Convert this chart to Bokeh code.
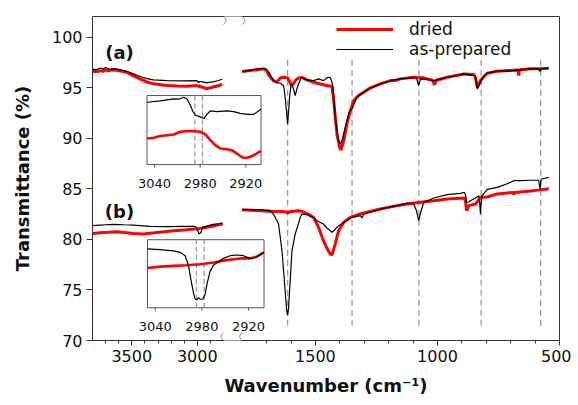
import math
import numpy as np
from bokeh.plotting import figure
from bokeh.models import (Range1d, FixedTicker, CustomJSTickFormatter, LinearAxis, Label,
                          Legend, LegendItem, BoxAnnotation, PolyAnnotation)
from bokeh.core.properties import value
from bokeh.embed import file_html
from bokeh.resources import INLINE

# ---------------- data (wavenumber cm-1, transmittance %) ----------------
A_ASPREP_LEFT_WN = [3800, 3780, 3766, 3740, 3720, 3700, 3680, 3665, 3640, 3614, 3580, 3538, 3488, 3437,
                    3386, 3335, 3233, 3107, 3005, 2998, 2993, 2985, 2955, 2929, 2900, 2878, 2840, 2810]
A_ASPREP_LEFT_T = [96.85, 96.80, 96.80, 96.95, 96.85, 97.00, 96.90, 96.80, 96.90, 96.87, 96.75, 96.63, 96.37,
                   96.11, 95.91, 95.78, 95.71, 95.68, 95.71, 95.65, 95.51, 95.62, 95.58, 95.48, 95.55, 95.58,
                   95.72, 95.84]
A_DRIED_LEFT_WN = [3800, 3790, 3780, 3770, 3760, 3741, 3720, 3700, 3680, 3660, 3640, 3600, 3538, 3490, 3437,
                   3390, 3335, 3233, 3150, 3081, 3005, 2980, 2960, 2942, 2929, 2915, 2904, 2880, 2853, 2830, 2810]
A_DRIED_LEFT_T = [96.55, 96.70, 96.55, 96.72, 96.60, 96.70, 96.62, 96.78, 96.68, 96.75, 96.76, 96.70, 96.53,
                  96.20, 95.88, 95.60, 95.39, 95.22, 95.17, 95.15, 95.22, 95.12, 95.05, 94.99, 94.89, 94.95,
                  94.99, 95.08, 95.15, 95.25, 95.32]
A_ASPREP_RIGHT_WN = [1800, 1780, 1760, 1740, 1712, 1700, 1690, 1672, 1660, 1644, 1630, 1624, 1618, 1614, 1610,
                     1606, 1600, 1596, 1590, 1583, 1576, 1569, 1560, 1555, 1545, 1535, 1508, 1487, 1467, 1455,
                     1446, 1439, 1432, 1428, 1419, 1405, 1398, 1391, 1378, 1365, 1357, 1350, 1340, 1330, 1315,
                     1302, 1275, 1234, 1200, 1179, 1152, 1120, 1097, 1086, 1077, 1070, 1063, 1040, 1015, 990,
                     960, 920, 892, 851, 844, 837, 830, 824, 810, 796, 755, 714, 687, 660, 619, 585, 580, 575, 544]
A_ASPREP_RIGHT_T = [96.60, 96.70, 96.78, 96.85, 96.93, 96.80, 96.50, 95.71, 95.50, 95.45, 95.20, 94.06, 92.50,
                    91.43, 92.60, 94.06, 95.20, 95.38, 94.90, 94.23, 94.90, 95.38, 95.90, 96.04, 95.85, 95.78,
                    95.71, 95.88, 95.71, 95.95, 96.04, 96.00, 95.55, 95.00, 92.08, 89.77, 89.44, 89.77, 91.09,
                    92.30, 92.74, 92.91, 93.50, 94.06, 94.35, 94.56, 94.95, 95.38, 95.62, 95.78, 95.88, 95.95,
                    96.04, 95.95, 95.22, 95.85, 95.88, 95.80, 95.71, 95.85, 96.04, 96.20, 96.37, 96.21, 96.15,
                    94.89, 95.20, 95.55, 96.20, 96.44, 96.64, 96.64, 96.70, 96.80, 96.87, 96.87, 96.60, 96.87,
                    96.93]
A_DRIED_RIGHT_WN = [1800, 1760, 1712, 1700, 1690, 1672, 1658, 1644, 1630, 1614, 1605, 1598, 1590, 1580, 1569,
                    1555, 1535, 1508, 1480, 1453, 1432, 1425, 1412, 1401, 1395, 1384, 1371, 1357, 1343, 1323,
                    1302, 1275, 1234, 1193, 1172, 1152, 1097, 1077, 1056, 1020, 1012, 1005, 960, 892, 851, 844,
                    837, 830, 824, 796, 755, 714, 670, 667, 664, 619, 580, 544]
A_DRIED_RIGHT_T = [96.60, 96.72, 96.87, 96.70, 96.20, 95.70, 95.55, 95.98, 96.04, 95.98, 95.60, 95.20, 95.40,
                   95.80, 95.95, 96.04, 95.78, 95.55, 95.38, 95.22, 95.12, 93.73, 90.43, 89.11, 88.85, 89.77,
                   91.43, 92.74, 93.73, 94.23, 94.56, 94.99, 95.38, 95.71, 95.71, 95.88, 96.04, 96.00, 95.98,
                   95.75, 95.30, 95.75, 96.04, 96.37, 96.31, 96.00, 95.05, 95.40, 95.71, 96.44, 96.64, 96.70,
                   96.75, 96.21, 96.75, 96.87, 96.87, 96.93]

B_ASPREP_LEFT_WN = [3800, 3741, 3700, 3640, 3560, 3488, 3361, 3233, 3081, 3018, 3005, 2995, 2987, 2980, 2972,
                    2959, 2929, 2878, 2840, 2806]
B_ASPREP_LEFT_T = [81.36, 81.42, 81.45, 81.49, 81.45, 81.42, 81.29, 81.26, 81.29, 81.29, 81.13, 80.80, 80.53,
                   80.60, 80.69, 81.19, 81.32, 81.49, 81.55, 81.62]
B_DRIED_LEFT_WN = [3800, 3741, 3680, 3614, 3540, 3488, 3412, 3310, 3233, 3183, 3081, 3000, 2980, 2929, 2878,
                   2840, 2806]
B_DRIED_LEFT_T = [80.59, 80.66, 80.70, 80.76, 80.66, 80.59, 80.53, 80.69, 80.78, 80.86, 80.96, 81.05, 81.09,
                  81.20, 81.32, 81.45, 81.52]
B_ASPREP_RIGHT_WN = [1800, 1726, 1700, 1685, 1672, 1651, 1637, 1624, 1618, 1614, 1610, 1606, 1596, 1583, 1569,
                     1562, 1555, 1535, 1508, 1494, 1480, 1467, 1453, 1439, 1432, 1425, 1405, 1384, 1371, 1350,
                     1316, 1309, 1302, 1234, 1165, 1124, 1097, 1086, 1077, 1067, 1056, 1015, 960, 906, 889, 884,
                     881, 872, 865, 844, 831, 827, 824, 821, 817, 796, 755, 714, 687, 660, 619, 585, 580, 575,
                     560, 544]
B_ASPREP_RIGHT_T = [82.94, 82.94, 82.88, 82.84, 82.51, 81.52, 78.88, 74.92, 73.00, 72.50, 73.20, 74.92, 78.88,
                    80.53, 81.60, 82.20, 82.51, 82.44, 82.18, 81.85, 81.68, 81.52, 81.13, 80.86, 80.69, 80.86,
                    81.36, 81.68, 81.85, 82.18, 82.35, 82.12, 82.51, 83.01, 83.34, 83.60, 83.50, 82.84, 81.85,
                    82.84, 83.66, 84.10, 84.43, 84.55, 84.65, 84.30, 83.66, 83.70, 83.83, 84.10, 84.33, 83.60,
                    82.51, 83.60, 84.33, 84.95, 85.15, 85.50, 85.81, 85.81, 85.85, 85.85, 84.99, 85.95, 86.05,
                    86.14]
B_DRIED_RIGHT_WN = [1800, 1726, 1672, 1637, 1620, 1614, 1608, 1596, 1569, 1555, 1530, 1508, 1487, 1467, 1450,
                    1439, 1432, 1419, 1405, 1384, 1357, 1316, 1234, 1165, 1097, 1015, 960, 889, 884, 881, 876,
                    872, 844, 824, 796, 755, 714, 690, 687, 684, 619, 580, 550, 544]
B_DRIED_RIGHT_T = [82.94, 82.84, 82.77, 82.77, 82.72, 82.62, 82.72, 82.77, 82.84, 82.77, 82.50, 82.18, 81.19,
                   79.87, 79.00, 78.55, 78.48, 79.54, 80.86, 81.68, 82.18, 82.51, 83.01, 83.34, 83.60, 83.83,
                   84.00, 84.10, 83.60, 82.84, 83.10, 83.34, 83.50, 84.16, 84.20, 84.50, 84.60, 84.65, 84.45,
                   84.65, 84.80, 84.90, 84.99, 85.05]

# reference band positions (cm-1)
BAND_WN = [1614, 1350, 1076, 821, 577]

# insets: 3050-2900 cm-1, relative intensity (0 = bottom of inset, 1 = top)
INSET_WN_RANGE = (3050, 2900)
INSET_TICKS = [3040, 2980, 2920]
INSET_BANDS = [2987, 2977]
IA_ASPREP_WN = [3050, 3032.5, 3014.9, 3008.3, 3001.8, 2997.4, 2993, 2989.5, 2986.4, 2982, 2977.6, 2974.6,
                2971.9, 2966.7, 2957.9, 2944.7, 2936, 2927.2, 2918.4, 2909.6, 2900]
IA_ASPREP_I = [0.903, 0.922, 0.951, 0.947, 0.976, 0.951, 0.864, 0.767, 0.718, 0.699, 0.680, 0.670, 0.718,
               0.777, 0.767, 0.777, 0.767, 0.743, 0.728, 0.728, 0.801]
IA_DRIED_WN = [3050, 3041.2, 3032.5, 3014.9, 3006.1, 2997.4, 2988.6, 2979.8, 2973.2, 2966.7, 2960.1, 2953.5,
               2944.7, 2938.2, 2931.6, 2925, 2920.6, 2914, 2907.5, 2900]
IA_DRIED_I = [0.379, 0.388, 0.413, 0.437, 0.476, 0.485, 0.485, 0.476, 0.437, 0.354, 0.282, 0.233, 0.223,
              0.209, 0.160, 0.107, 0.097, 0.112, 0.150, 0.199]
IB_ASPREP_WN = [3050, 3033.7, 3016.6, 3008, 3001.6, 2997.3, 2994.3, 2990.9, 2988.7, 2986.6, 2984.4, 2982.3,
                2978.9, 2975.8, 2972.8, 2969.4, 2965.1, 2958.7, 2952.3, 2943.7, 2935.1, 2926.6, 2918, 2911.6,
                2905.1, 2900]
IB_ASPREP_I = [0.865, 0.855, 0.835, 0.815, 0.765, 0.625, 0.425, 0.225, 0.125, 0.115, 0.150, 0.125, 0.125,
               0.200, 0.375, 0.535, 0.625, 0.675, 0.725, 0.765, 0.775, 0.765, 0.725, 0.735, 0.775, 0.815]
IB_DRIED_WN = [3050, 3033.7, 3016.6, 2999.4, 2982.3, 2965.1, 2948, 2930.9, 2918, 2909.5, 2900]
IB_DRIED_I = [0.585, 0.605, 0.615, 0.625, 0.640, 0.665, 0.700, 0.725, 0.725, 0.750, 0.815]

X_MAJOR = [3500, 3000, 1500, 1000, 500]
X_MINOR = [3700, 3600, 3400, 3300, 3200, 3100, 2900,
           1700, 1600, 1400, 1300, 1200, 1100, 900, 800, 700, 600]
Y_TICKS = [70, 75, 80, 85, 90, 95, 100]

# ---------------- broken-axis geometry ----------------
LEFT_START, LEFT_END = 3800, 2800
RIGHT_START, RIGHT_END = 1800, 500
FRAME_W, FRAME_H = 467, 324
U_LEFT = 131.0
U_GAP_END = 149.7
SL = U_LEFT / (LEFT_START - LEFT_END)
SR = (FRAME_W - U_GAP_END) / (RIGHT_START - RIGHT_END)
Y0, Y1 = 70.0, 102.05
YPX = (Y1 - Y0) / FRAME_H


def to_u(wn):
    if wn >= LEFT_END:
        return (LEFT_START - wn) * SL
    return U_GAP_END + (RIGHT_START - wn) * SR


RED = "#ff0000"
BLACK = "#000000"
FONT = "DejaVu Sans"

p = figure(frame_width=FRAME_W, frame_height=FRAME_H, output_backend="svg", toolbar_location=None,
           x_range=Range1d(0, FRAME_W), y_range=Range1d(Y0, Y1),
           min_border_left=92, min_border_top=16, min_border_right=12, min_border_bottom=56)
p.outline_line_color = None
p.grid.visible = False
p.background_fill_color = "white"
p.border_fill_color = "white"

# axes
xa = p.xaxis[0]
xa.ticker = FixedTicker(ticks=[to_u(w) for w in X_MAJOR], minor_ticks=[to_u(w) for w in X_MINOR])
xa.formatter = CustomJSTickFormatter(args=dict(ul=U_LEFT, ug=U_GAP_END, sl=SL, sr=SR, ls=LEFT_START, rs=RIGHT_START),
                                     code="""
const wn = tick <= ul + 1e-6 ? ls - tick / sl : rs - (tick - ug) / sr;
return String(Math.round(wn / 10) * 10);
""")
xa.axis_label = "Wavenumber (cm\u207b\u00b9)"
ya = p.yaxis[0]
ya.ticker = FixedTicker(ticks=Y_TICKS)
ya.axis_label = "Transmittance (%)"
for ax in (xa, ya):
    ax.axis_line_color = "#333333"
    ax.major_tick_line_color = "#333333"
    ax.minor_tick_line_color = "#333333"
    ax.major_tick_in = 0
    ax.minor_tick_in = 0
    ax.major_label_text_font = FONT
    ax.major_label_text_font_size = "16px"
    ax.major_label_text_color = "#111111"
    ax.axis_label_text_font = FONT
    ax.axis_label_text_font_style = "bold"
    ax.axis_label_text_font_size = "18px"
    ax.axis_label_text_color = "#111111"
xa.major_tick_out = 5
xa.minor_tick_out = 3
xa.major_label_standoff = 4
xa.axis_label_standoff = 10
ya.major_tick_out = 6
ya.minor_tick_out = 0
ya.major_label_standoff = 4
ya.axis_label_standoff = 16

for side in ("above", "right"):
    ax = LinearAxis(ticker=FixedTicker(ticks=[]), major_tick_out=0, major_tick_in=0,
                    minor_tick_out=0, minor_tick_in=0, major_label_text_font_size="0px",
                    axis_line_color="#333333", axis_line_width=1)
    p.add_layout(ax, side)

# band markers
p.segment(x0=[to_u(w) for w in BAND_WN], y0=71.45, x1=[to_u(w) for w in BAND_WN], y1=97.8,
          line_color="#9a9a9a", line_width=1.3, line_dash="6 4")

# spectra
lw_red, lw_blk = 3, 1.2
r_dried = p.line([to_u(w) for w in A_DRIED_LEFT_WN], A_DRIED_LEFT_T, line_color=RED, line_width=lw_red)
p.line([to_u(w) for w in A_DRIED_RIGHT_WN], A_DRIED_RIGHT_T, line_color=RED, line_width=lw_red)
p.line([to_u(w) for w in B_DRIED_LEFT_WN], B_DRIED_LEFT_T, line_color=RED, line_width=lw_red)
p.line([to_u(w) for w in B_DRIED_RIGHT_WN], B_DRIED_RIGHT_T, line_color=RED, line_width=lw_red)
r_asp = p.line([to_u(w) for w in A_ASPREP_LEFT_WN], A_ASPREP_LEFT_T, line_color=BLACK, line_width=lw_blk)
p.line([to_u(w) for w in A_ASPREP_RIGHT_WN], A_ASPREP_RIGHT_T, line_color=BLACK, line_width=lw_blk)
p.line([to_u(w) for w in B_ASPREP_LEFT_WN], B_ASPREP_LEFT_T, line_color=BLACK, line_width=lw_blk)
p.line([to_u(w) for w in B_ASPREP_RIGHT_WN], B_ASPREP_RIGHT_T, line_color=BLACK, line_width=lw_blk)

# insets (drawn inside the main frame)
INSETS = [
    dict(box=(54.5, 168.5, 87.40, 94.23), black=(IA_ASPREP_WN, IA_ASPREP_I), red=(IA_DRIED_WN, IA_DRIED_I)),
    dict(box=(55.0, 171.5, 73.24, 79.97), black=(IB_ASPREP_WN, IB_ASPREP_I), red=(IB_DRIED_WN, IB_DRIED_I)),
]
w0, w1 = INSET_WN_RANGE
for ins in INSETS:
    L, R, B, T = ins["box"]
    ix = lambda ws: [L + (w0 - w) / (w0 - w1) * (R - L) for w in ws]
    iy = lambda vs: [B + v * (T - B) for v in vs]
    p.quad(left=L, right=R, bottom=B, top=T, fill_color="white", line_color="#555555", line_width=1)
    bx = ix(INSET_BANDS)
    p.segment(x0=bx, y0=B, x1=bx, y1=T, line_color="#9a9a9a", line_width=1.3, line_dash="5 3")
    p.line(ix(ins["red"][0]), iy(ins["red"][1]), line_color=RED, line_width=2.6)
    p.line(ix(ins["black"][0]), iy(ins["black"][1]), line_color=BLACK, line_width=1.2)
    tx = ix(INSET_TICKS)
    p.segment(x0=tx, y0=B, x1=tx, y1=B - 3 * YPX, line_color="#555555", line_width=1)
    p.text(x=tx, y=B, text=[str(t) for t in INSET_TICKS], text_align="center", text_baseline="middle",
           y_offset=19, text_font=value(FONT), text_font_size="13px", text_color="#111111")

# panel labels
for txt, yv in (("(a)", 98.49), ("(b)", 82.73)):
    p.add_layout(Label(x=27, y=yv, text=txt, text_align="center", text_baseline="middle",
                       text_font=FONT, text_font_style="bold", text_font_size="18px", text_color="#111111"))

# axis break: white gaps in top/bottom frame lines + wavy marks
for ye in (Y0, Y1):
    p.add_layout(BoxAnnotation(left=U_LEFT, right=U_GAP_END, bottom=ye - 4 * YPX, top=ye + 4 * YPX,
                               fill_color="white", fill_alpha=1, line_color=None))
for ub in (U_LEFT, U_GAP_END):
    for ye in (Y0, Y1):
        n = 17
        dys = [-8 + 16 * k / (n - 1) for k in range(n)]
        xs = [ub + 2.5 * math.sin(math.pi * d / 8) for d in dys]
        ys = [ye - d * YPX for d in dys]
        p.add_layout(PolyAnnotation(xs=xs + xs[::-1], ys=ys + ys[::-1], fill_color=None, fill_alpha=0,
                                    line_color="#333333", line_width=1))

# legend
legend = Legend(items=[LegendItem(label="dried", renderers=[r_dried]),
                       LegendItem(label="as-prepared", renderers=[r_asp])],
                location=(244, 281), orientation="vertical", border_line_color=None,
                background_fill_alpha=0, padding=0, margin=0, spacing=0,
                glyph_width=57, glyph_height=18, label_height=18, label_standoff=16,
                label_text_font=FONT, label_text_font_size="17px", label_text_color="#111111",
                label_text_baseline="middle")
p.add_layout(legend)

open("out.html", "w").write(file_html(p, INLINE))
